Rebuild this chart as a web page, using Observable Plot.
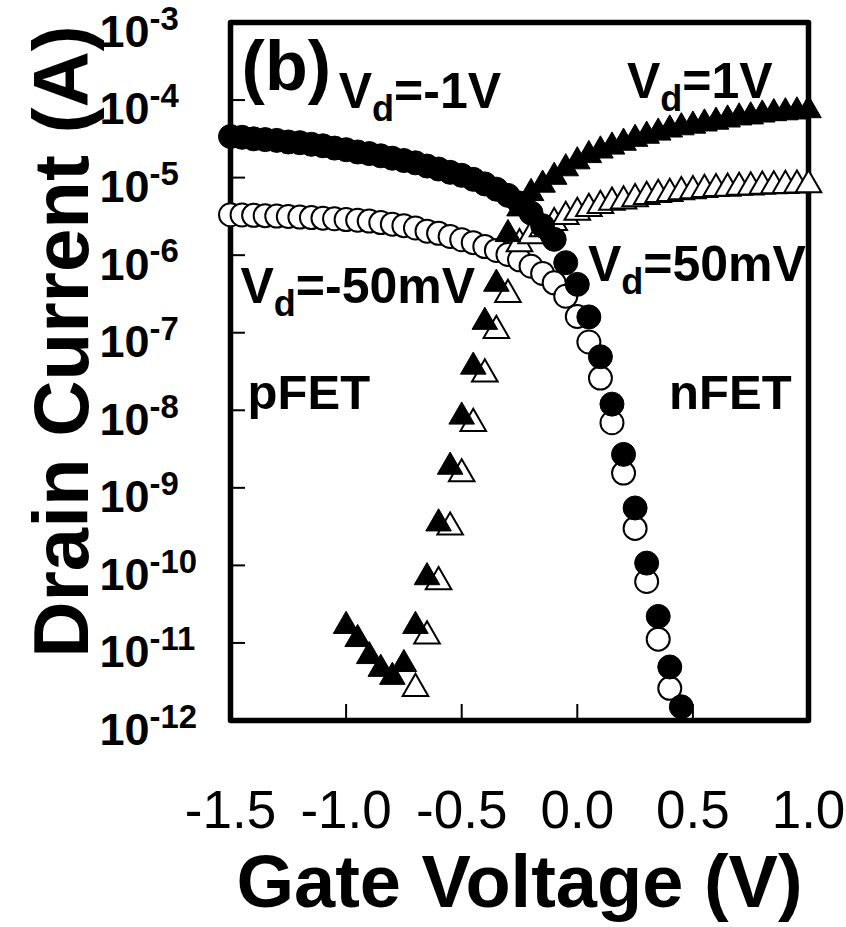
<!DOCTYPE html>
<html>
<head>
<meta charset="utf-8">
<script src="https://cdn.jsdelivr.net/npm/d3@7"></script>
<script src="https://cdn.jsdelivr.net/npm/@observablehq/plot@0.6"></script>
<style>
  html, body { margin: 0; padding: 0; background: #fff; }
  svg { display: block; }
</style>
</head>
<body>
<div id="chart"></div>
<script>
const FONT = "'Liberation Sans', Arial, Helvetica, sans-serif";

// ---- Data ----
// pFET, Vd = -1 V (filled circles)
const vgFilledCircle = [-1.5, -1.45, -1.4, -1.35, -1.3, -1.25, -1.2, -1.15, -1.1, -1.05,
  -1.0, -0.95, -0.9, -0.85, -0.8, -0.75, -0.7, -0.65, -0.6, -0.55,
  -0.5, -0.45, -0.4, -0.35, -0.3, -0.25, -0.2, -0.15, -0.1, -0.05,
  0.0, 0.05, 0.1, 0.15, 0.2, 0.25, 0.3, 0.35, 0.4, 0.45];
const idFilledCircle = [3.39e-5, 3.31e-5, 3.16e-5, 3.09e-5, 3.02e-5, 2.88e-5, 2.82e-5, 2.69e-5, 2.57e-5, 2.40e-5,
  2.29e-5, 2.14e-5, 2.04e-5, 1.91e-5, 1.78e-5, 1.66e-5, 1.55e-5, 1.41e-5, 1.29e-5, 1.17e-5,
  1.07e-5, 9.5e-6, 8.3e-6, 7.1e-6, 5.9e-6, 4.7e-6, 3.5e-6, 2.4e-6, 1.6e-6, 8.0e-7,
  4.2e-7, 1.6e-7, 4.9e-8, 1.2e-8, 2.7e-9, 5.5e-10, 1.07e-10, 2.2e-11, 4.9e-12, 1.5e-12];

// pFET, Vd = -50 mV (open circles)
const vgOpenCircle = [-1.5, -1.45, -1.4, -1.35, -1.3, -1.25, -1.2, -1.15, -1.1, -1.05,
  -1.0, -0.95, -0.9, -0.85, -0.8, -0.75, -0.7, -0.65, -0.6, -0.55,
  -0.5, -0.45, -0.4, -0.35, -0.3, -0.25, -0.2, -0.15, -0.1, -0.05,
  0.0, 0.05, 0.1, 0.15, 0.2, 0.25, 0.3, 0.35, 0.4];
const idOpenCircle = [3.32e-6, 3.30e-6, 3.26e-6, 3.23e-6, 3.19e-6, 3.15e-6, 3.10e-6, 3.05e-6, 3.00e-6, 2.95e-6,
  2.88e-6, 2.82e-6, 2.75e-6, 2.63e-6, 2.51e-6, 2.40e-6, 2.24e-6, 2.04e-6, 1.91e-6, 1.74e-6,
  1.58e-6, 1.45e-6, 1.29e-6, 1.15e-6, 1.02e-6, 8.7e-7, 7.2e-7, 5.8e-7, 4.4e-7, 2.95e-7,
  1.62e-7, 7.6e-8, 2.6e-8, 6.9e-9, 1.55e-9, 3.0e-10, 6.2e-11, 1.12e-11, 2.6e-12];

// nFET, Vd = 1 V (filled triangles)
const vgFilledTri = [-1.0, -0.95, -0.9, -0.85, -0.8, -0.75, -0.7, -0.65, -0.6, -0.55,
  -0.5, -0.45, -0.4, -0.35, -0.3, -0.25, -0.2, -0.15, -0.1, -0.05,
  0.0, 0.05, 0.1, 0.15, 0.2, 0.25, 0.3, 0.35, 0.4, 0.45,
  0.5, 0.55, 0.6, 0.65, 0.7, 0.75, 0.8, 0.85, 0.9, 0.95, 1.0];
const idFilledTri = [1.86e-11, 1.26e-11, 7.6e-12, 5.2e-12, 4.1e-12, 6.0e-12, 1.86e-11, 7.9e-11, 3.9e-10, 2.1e-9,
  9.3e-9, 4.1e-8, 1.55e-7, 4.8e-7, 2.1e-6, 4.5e-6, 7.1e-6, 9.1e-6, 1.15e-5, 1.48e-5,
  1.82e-5, 2.19e-5, 2.51e-5, 2.82e-5, 3.16e-5, 3.55e-5, 3.89e-5, 4.27e-5, 4.68e-5, 5.0e-5,
  5.25e-5, 5.6e-5, 5.9e-5, 6.3e-5, 6.7e-5, 6.9e-5, 7.3e-5, 7.6e-5, 7.8e-5, 8.0e-5, 8.3e-5];

// nFET, Vd = 50 mV (open triangles)
const vgOpenTri = [-0.7, -0.65, -0.6, -0.55, -0.5, -0.45, -0.4, -0.35, -0.3, -0.25,
  -0.2, -0.15, -0.1, -0.05, 0.0, 0.05, 0.1, 0.15, 0.2, 0.25,
  0.3, 0.35, 0.4, 0.45, 0.5, 0.55, 0.6, 0.65, 0.7, 0.75,
  0.8, 0.85, 0.9, 0.95, 1.0];
const idOpenTri = [2.9e-12, 1.38e-11, 6.9e-11, 3.5e-10, 1.7e-9, 7.6e-9, 3.3e-8, 1.2e-7, 3.5e-7, 1.58e-6,
  2.0e-6, 2.45e-6, 2.95e-6, 3.55e-6, 4.0e-6, 4.5e-6, 4.9e-6, 5.4e-6, 5.6e-6, 6.0e-6,
  6.4e-6, 6.8e-6, 7.0e-6, 7.4e-6, 7.6e-6, 7.9e-6, 8.1e-6, 8.2e-6, 8.4e-6, 8.5e-6,
  8.7e-6, 8.8e-6, 8.9e-6, 9.0e-6, 9.05e-6];

// Axes
const xTicks = [-1.5, -1.0, -0.5, 0.0, 0.5, 1.0];
const xTickLabels = ["-1.5", "-1.0", "-0.5", "0.0", "0.5", "1.0"];
const yTicks = [1e-3, 1e-4, 1e-5, 1e-6, 1e-7, 1e-8, 1e-9, 1e-10, 1e-11, 1e-12];
const yTickLabels = ["10^-3", "10^-4", "10^-5", "10^-6", "10^-7", "10^-8", "10^-9", "10^-10", "10^-11", "10^-12"];
const xLabel = "Gate Voltage (V)";
const yLabel = "Drain Current (A)";

// Annotations (anchored in data units: gate voltage, drain current)
const panelNote = [{text: "(b)", vg: -1.452, id: 1.33e-4}];
const vdNotes = [
  {text: "V_d=-1V", vg: -1.032, id: 8.0e-5},
  {text: "V_d=1V", vg: 0.215, id: 1.05e-4},
  {text: "V_d=50mV", vg: 0.046, id: 4.6e-7},
  {text: "V_d=-50mV", vg: -1.457, id: 2.45e-7}
];
const fetNotes = [
  {text: "pFET", vg: -1.426, id: 1.05e-8},
  {text: "nFET", vg: 0.397, id: 1.05e-8}
];

const rows = (xs, ys) => xs.map((x, i) => ({vg: x, id: ys[i]}));
const filledCircles = rows(vgFilledCircle, idFilledCircle);
const openCircles = rows(vgOpenCircle, idOpenCircle);
const filledTris = rows(vgFilledTri, idFilledTri);
const openTris = rows(vgOpenTri, idOpenTri);

const W = 846, H = 927;
const mL = 230, mR = 38, mT = 22, mB = 207;
const plotW = W - mL - mR, plotH = H - mT - mB;

const chart = Plot.plot({
  width: W, height: H,
  marginLeft: mL, marginRight: mR, marginTop: mT, marginBottom: mB,
  style: {fontFamily: FONT, background: "white", color: "black", overflow: "visible"},
  x: {domain: [-1.5, 1.0]},
  y: {type: "log", domain: [1e-12, 1e-3]},
  marks: [
    Plot.frame({stroke: "black", strokeWidth: 5.5, strokeLinejoin: "round"}),
    Plot.tickY(yTicks, {y: d => d, insetRight: plotW - 15, stroke: "black", strokeWidth: 2}),
    Plot.tickX(xTicks, {x: d => d, insetTop: plotH - 16, stroke: "black", strokeWidth: 2}),
    Plot.axisY({ticks: yTicks, tickFormat: d => yTickLabels[yTicks.indexOf(d)], tickSize: 0, tickPadding: 131,
      textAnchor: "start", fontSize: 45, fontWeight: "bold", dy: 10, label: null, fill: "black"}),
    Plot.axisX({ticks: xTicks, tickFormat: d => xTickLabels[xTicks.indexOf(d)], tickSize: 0, tickPadding: 70,
      fontSize: 53, label: null, fill: "black"}),
    Plot.text([xLabel], {text: d => d, frameAnchor: "bottom", dy: 186, lineAnchor: "bottom",
      fontSize: 74, fontWeight: "bold", fill: "black"}),
    Plot.text([yLabel], {text: d => d, frameAnchor: "left", rotate: -90, dx: -143, dy: -30, textAnchor: "middle",
      lineAnchor: "bottom", fontSize: 78, fontWeight: "bold", fill: "black"}),
    Plot.text(panelNote, {x: "vg", y: "id", text: "text", textAnchor: "start", lineAnchor: "bottom",
      fontSize: 70, fontWeight: "bold", fill: "black"}),
    Plot.text(vdNotes, {x: "vg", y: "id", text: "text", textAnchor: "start", lineAnchor: "bottom",
      fontSize: 50, fontWeight: "bold", fill: "black"}),
    Plot.text(fetNotes, {x: "vg", y: "id", text: "text", textAnchor: "start", lineAnchor: "bottom",
      fontSize: 49, fontWeight: "bold", fill: "black"}),
    Plot.dot(openCircles, {x: "vg", y: "id", r: 11.5, fill: "white", stroke: "black", strokeWidth: 2}),
    Plot.dot(openTris, {x: "vg", y: "id", symbol: "triangle", r: 9.5, dy: 4, fill: "white", stroke: "black", strokeWidth: 2}),
    Plot.dot(filledTris, {x: "vg", y: "id", symbol: "triangle", r: 9.5, dy: 4, fill: "black", stroke: "black", strokeWidth: 1}),
    Plot.dot(filledCircles, {x: "vg", y: "id", r: 12, fill: "black", stroke: "black", strokeWidth: 1})
  ]
});

document.getElementById("chart").appendChild(chart);

// Sub/superscripts: "V_d" and "10^-3"
const NS = "http://www.w3.org/2000/svg";
function tspan(txt, attrs) {
  const e = document.createElementNS(NS, "tspan");
  for (const k in attrs) e.setAttribute(k, attrs[k]);
  e.textContent = txt;
  return e;
}
for (const t of chart.querySelectorAll("text")) {
  const target = t.querySelector("tspan") || t;
  const s = target.textContent;
  const fs = parseFloat(getComputedStyle(t).fontSize);
  let m = s.match(/^([^_]*)_(.)(.*)$/);
  if (m) {
    target.textContent = m[1];
    target.appendChild(tspan(m[2], {"font-size": (fs * 0.72).toFixed(1), dy: (fs * 0.26).toFixed(1)}));
    target.appendChild(tspan(m[3], {"font-size": fs, dy: (-fs * 0.26).toFixed(1)}));
    continue;
  }
  m = s.match(/^([^^]*)\^(.*)$/);
  if (m) {
    target.textContent = m[1];
    target.appendChild(tspan(m[2], {"font-size": (fs * 0.73).toFixed(1), dy: (-fs * 0.38).toFixed(1)}));
  }
}
</script>
</body>
</html>
